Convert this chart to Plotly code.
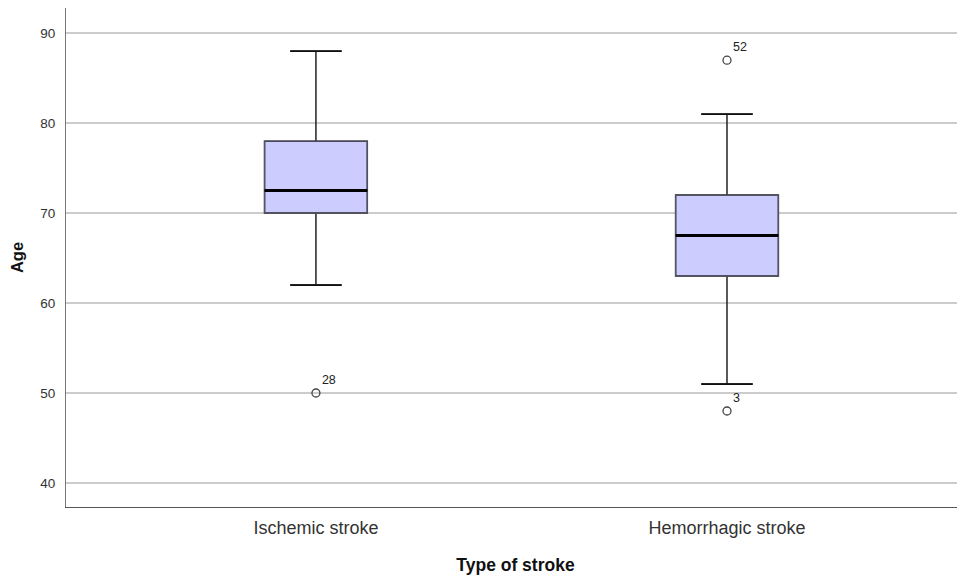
import plotly.graph_objects as go

categories = ["Ischemic stroke", "Hemorrhagic stroke"]
q1 = [70, 63]
median = [72.5, 67.5]
q3 = [78, 72]
lower_whisker = [62, 51]
upper_whisker = [88, 81]
outlier_cat = [0, 1, 1]
outlier_val = [50, 87, 48]
outlier_id = ["28", "52", "3"]
y_ticks = [40, 50, 60, 70, 80, 90]

xpos = list(range(len(categories)))
box_w = 0.25
cap_w = 0.125

fig = go.Figure()
fig.add_trace(go.Box(
    x=xpos, q1=q1, median=median, q3=q3,
    lowerfence=lower_whisker, upperfence=upper_whisker,
    width=box_w, fillcolor="#ccccff",
    line=dict(color="#222222", width=1.5),
    boxpoints=False, showlegend=False, hoverinfo="skip",
))
for i, x in enumerate(xpos):
    for v in (lower_whisker[i], upper_whisker[i]):
        fig.add_trace(go.Scatter(
            x=[x - cap_w / 2, x + cap_w / 2], y=[v, v],
            mode="lines", line=dict(color="#111111", width=1.8), showlegend=False, hoverinfo="skip"))
for i, x in enumerate(xpos):
    fig.add_trace(go.Scatter(
        x=[x - box_w / 2, x + box_w / 2, x + box_w / 2, x - box_w / 2, x - box_w / 2],
        y=[q1[i], q1[i], q3[i], q3[i], q1[i]],
        mode="lines", line=dict(color="#55556a", width=1.2), showlegend=False, hoverinfo="skip"))
    fig.add_trace(go.Scatter(
        x=[x - box_w / 2, x + box_w / 2], y=[median[i], median[i]],
        mode="lines", line=dict(color="black", width=3), showlegend=False, hoverinfo="skip"))

fig.add_trace(go.Scatter(
    x=[xpos[c] for c in outlier_cat], y=outlier_val,
    mode="markers+text", text=outlier_id, textposition="top right",
    textfont=dict(size=12.5, color="#222222", family="Arial, Liberation Sans"),
    marker=dict(symbol="circle-open", size=8, color="#444444", line=dict(width=1.3)),
    showlegend=False, hoverinfo="skip", cliponaxis=False))

fig.update_layout(
    width=957, height=568,
    margin=dict(l=58, r=0, t=0, b=69),
    paper_bgcolor="white", plot_bgcolor="white",
    font=dict(family="Arial, Liberation Sans", color="#222222"),
)
fig.update_xaxes(
    range=[-0.608, 1.579], tickvals=xpos, ticktext=categories,
    tickfont=dict(size=18, color="#333333"), showgrid=False, zeroline=False,
    showline=True, linecolor="#555555", linewidth=1, ticks="", ticklabelstandoff=4,
    title=dict(text="<b>Type of stroke</b>", font=dict(size=17.5, color="#111111"), standoff=22),
)
fig.update_yaxes(
    range=[37.33, 92.8], tickvals=y_ticks, tickfont=dict(size=13.5, color="#333333"),
    showgrid=True, gridcolor="#cccccc", gridwidth=1.5, zeroline=False,
    showline=True, linecolor="#777777", linewidth=1, ticks="", ticklabelstandoff=7,
    title=dict(text="<b>Age</b>", font=dict(size=16.5, color="#111111"), standoff=14),
)
fig.write_html("out.html")
